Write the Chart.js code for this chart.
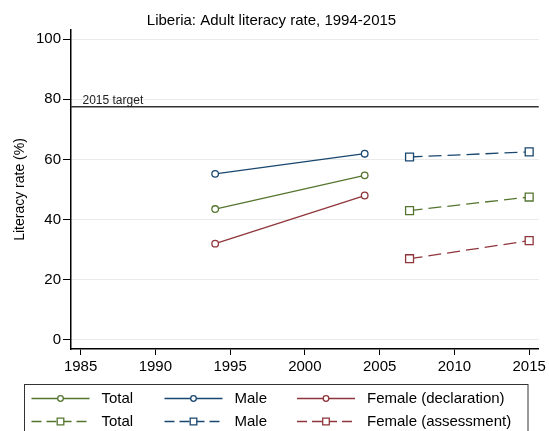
<!DOCTYPE html>
<html>
<head>
<meta charset="utf-8">
<script src="https://cdn.jsdelivr.net/npm/chart.js@4"></script>
<style>
  html, body { margin: 0; padding: 0; background: #fff; }
  canvas { display: block; }
</style>
</head>
<body>
<canvas id="c" width="549" height="431"></canvas>
<script>
// ---- Data ----
const yearsDeclaration = [1994, 2004];
const yearsAssessment = [2007, 2015];
const totalDeclaration = [43.5, 54.7];
const maleDeclaration = [55.2, 61.9];
const femaleDeclaration = [32.0, 48.0];
const totalAssessment = [43.0, 47.5];
const maleAssessment = [60.8, 62.5];
const femaleAssessment = [27.0, 33.0];
const targetValue = 77.5;
const targetLabel = '2015 target';
const xTickValues = [1985, 1990, 1995, 2000, 2005, 2010, 2015];
const yTickValues = [0, 20, 40, 60, 80, 100];
const titleText = 'Liberia: Adult literacy rate, 1994-2015';
const yTitle = 'Literacy rate (%)';
const legendRow1 = ['Total', 'Male', 'Female (declaration)'];
const legendRow2 = ['Total', 'Male', 'Female (assessment)'];

const GREEN = '#55752f', NAVY = '#1a476f', MAROON = '#90353b';
const FONT = '"Liberation Sans", Arial, Helvetica, sans-serif';
Chart.defaults.font.family = FONT;
Chart.defaults.color = '#000';

const pts = (xs, ys) => xs.map((x, i) => ({ x: x, y: ys[i] }));

function ds(label, xs, ys, color, square) {
  return {
    label: label,
    data: pts(xs, ys),
    borderColor: color,
    borderWidth: 1.3,
    borderDash: square ? [13, 6] : [],
    pointStyle: square ? 'rect' : 'circle',
    pointRadius: square ? 5.6 : 3.3,
    pointBackgroundColor: '#fff',
    pointBorderColor: color,
    pointBorderWidth: 1.3,
    pointHoverRadius: square ? 5.6 : 3.3,
    fill: false,
    tension: 0,
    showLine: true
  };
}

const datasets = [
  ds(legendRow1[0], yearsDeclaration, totalDeclaration, GREEN, false),
  ds(legendRow1[1], yearsDeclaration, maleDeclaration, NAVY, false),
  ds(legendRow1[2], yearsDeclaration, femaleDeclaration, MAROON, false),
  ds(legendRow2[0], yearsAssessment, totalAssessment, GREEN, true),
  ds(legendRow2[1], yearsAssessment, maleAssessment, NAVY, true),
  ds(legendRow2[2], yearsAssessment, femaleAssessment, MAROON, true)
];

const targetPlugin = {
  id: 'target',
  beforeDatasetsDraw(chart) {
    const { ctx, chartArea, scales } = chart;
    const y = scales.y.getPixelForValue(targetValue);
    ctx.save();
    ctx.strokeStyle = '#333';
    ctx.lineWidth = 1.5;
    ctx.beginPath();
    ctx.moveTo(chartArea.left, y);
    ctx.lineTo(chartArea.right, y);
    ctx.stroke();
    ctx.fillStyle = '#222';
    ctx.font = '12px ' + FONT;
    ctx.textBaseline = 'alphabetic';
    ctx.textAlign = 'left';
    ctx.fillText(targetLabel, chartArea.left + 11.5, y - 2.5);
    ctx.restore();
  }
};

const legendPlugin = {
  id: 'customLegend',
  afterDraw(chart) {
    const ctx = chart.ctx;
    ctx.save();
    ctx.strokeStyle = '#333';
    ctx.lineWidth = 1;
    ctx.strokeRect(24.5, 384.5, 503.5, 70);
    const cols = [31.5, 164.5, 297];
    const rows = [398.5, 421.5];
    const sampleW = 58;
    chart.data.datasets.forEach((d, i) => {
      const r = Math.floor(i / 3), c = i % 3;
      const x0 = cols[c], y = rows[r];
      const sq = d.pointStyle === 'rect';
      ctx.strokeStyle = d.borderColor;
      ctx.lineWidth = 1.3;
      ctx.setLineDash(sq ? [10, 5] : []);
      ctx.beginPath();
      ctx.moveTo(x0, y);
      ctx.lineTo(x0 + sampleW, y);
      ctx.stroke();
      ctx.setLineDash([]);
      const mx = x0 + sampleW / 2;
      ctx.fillStyle = '#fff';
      ctx.beginPath();
      if (sq) {
        ctx.rect(mx - 3.3, y - 3.3, 6.6, 6.6);
      } else {
        ctx.arc(mx, y, 2.8, 0, Math.PI * 2);
      }
      ctx.fill();
      ctx.stroke();
      ctx.fillStyle = '#000';
      ctx.font = '15px ' + FONT;
      ctx.textBaseline = 'middle';
      ctx.textAlign = 'left';
      ctx.fillText(d.label, x0 + 70, y + 0.5);
    });
    ctx.restore();
  }
};

new Chart(document.getElementById('c'), {
  type: 'line',
  data: { datasets: datasets },
  plugins: [targetPlugin, legendPlugin, {
    id: 'bg',
    beforeDraw(chart) {
      const ctx = chart.ctx;
      ctx.save();
      ctx.fillStyle = '#fff';
      ctx.fillRect(0, 0, chart.width, chart.height);
      ctx.restore();
    }
  }],
  options: {
    responsive: false,
    devicePixelRatio: 1,
    animation: false,
    layout: { padding: { left: 0, right: 6, top: 0, bottom: 47 } },
    plugins: {
      legend: { display: false },
      tooltip: { enabled: false },
      title: {
        display: true,
        text: titleText,
        color: '#000',
        font: { size: 15, weight: 'normal', lineHeight: 1.2 },
        padding: { top: 12, bottom: 0 }
      }
    },
    scales: {
      x: {
        type: 'linear',
        min: 1984.36,
        max: 2015.64,
        afterBuildTicks: s => { s.ticks = xTickValues.map(v => ({ value: v })); },
        afterFit: s => { s.height = 35; },
        ticks: { font: { size: 15 }, color: '#000', padding: 3, autoSkip: false, maxRotation: 0,
                 callback: v => String(v) },
        grid: { display: true, drawOnChartArea: false, drawTicks: true, tickLength: 6, tickColor: '#000', tickWidth: 1 },
        border: { display: true, color: '#000', width: 1.5 }
      },
      y: {
        type: 'linear',
        min: -3,
        max: 103,
        afterBuildTicks: s => { s.ticks = yTickValues.map(v => ({ value: v })); },
        afterFit: s => { s.width = 71; },
        ticks: { font: { size: 15 }, color: '#000', padding: 2, callback: v => String(v) },
        grid: { display: true, color: '#eaeaea', lineWidth: 1, drawTicks: true, tickLength: 8, tickColor: '#000', tickWidth: 1 },
        border: { display: true, color: '#000', width: 1.5 },
        title: { display: true, text: yTitle, color: '#000', font: { size: 14 }, padding: { top: 12, bottom: 0 } }
      }
    }
  }
});
</script>
</body>
</html>
